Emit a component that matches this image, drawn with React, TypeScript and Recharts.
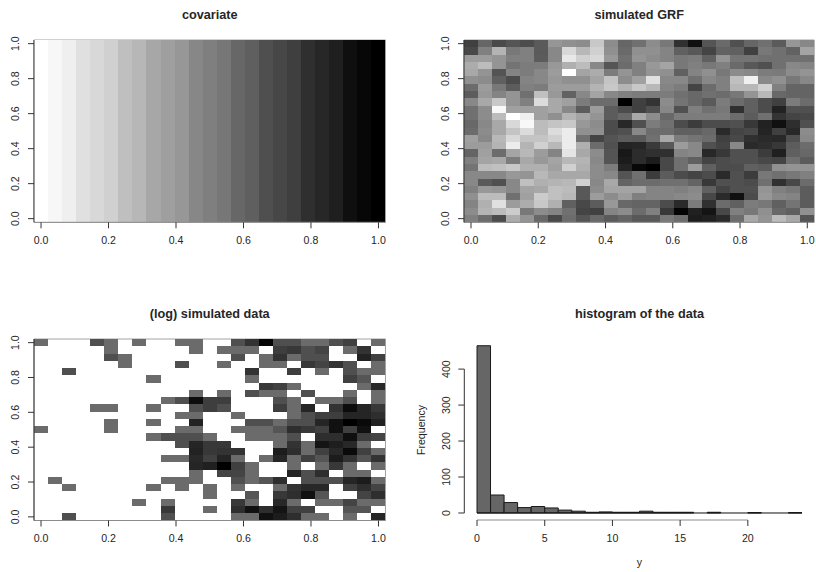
import { Bar, BarChart, Cell, ReferenceArea, ReferenceLine, XAxis, YAxis } from 'recharts';

const FONT = '"Liberation Sans", Arial, sans-serif';
const TEXT_COLOR = '#262626';
const BOX_COLOR = '#8c8c8c';
const AXIS_COLOR = '#333333';
const HIST_FILL = '#666666';
const TICK_SIZE = 10.6;
const TITLE_SIZE = 12.7;

const _ = null;

// cell centres of the 25 x 25 image grid
const xCenters = [
  0, 0.041667, 0.083333, 0.125, 0.166667, 0.208333, 0.25, 0.291667, 0.333333, 0.375, 0.416667, 0.458333, 0.5,
  0.541667, 0.583333, 0.625, 0.666667, 0.708333, 0.75, 0.791667, 0.833333, 0.875, 0.916667, 0.958333, 1,
];
const xTicks = [0, 0.2, 0.4, 0.6, 0.8, 1];
// y is in row units (0..25), row centres of 0, 0.2 .. 1 fall on these
const yTicks = [0.5, 5.3, 10.1, 14.9, 19.7, 24.5];
const yTickLabels = ['0.0', '0.2', '0.4', '0.6', '0.8', '1.0'];

// grey levels (0 = black, 255 = white), left to right
const covariateLevels = [
  0xff, 0xf7, 0xef, 0xe0, 0xd8, 0xd0, 0xbf, 0xb7, 0xa7, 0x9f, 0x97, 0x87, 0x7f, 0x77, 0x67, 0x5f, 0x4f, 0x47, 0x3f,
  0x2f, 0x27, 0x1f, 0x0f, 0x07, 0x00,
];
const covariateRows = new Array(25).fill(covariateLevels);

// grey levels, rows from top to bottom
const grfRows = [
  [0x40, 0x66, 0x4a, 0x55, 0x4c, 0x5a, 0x96, 0x90, 0x8c, 0xc8, 0x8c, 0x66, 0x70, 0x8c, 0x78, 0x30, 0x10, 0x55, 0x6a, 0x50, 0x66, 0x70, 0x5a, 0x96, 0x88],
  [0x48, 0x80, 0xb4, 0x78, 0x80, 0x5a, 0x88, 0xd8, 0xb8, 0xd0, 0x90, 0x6a, 0x90, 0x90, 0x84, 0x60, 0x58, 0x44, 0x62, 0x60, 0x40, 0x78, 0x70, 0x62, 0xa4],
  [0x9c, 0x9c, 0x94, 0x80, 0x80, 0x5c, 0x88, 0xe8, 0xd0, 0xd8, 0x98, 0x70, 0x94, 0x8c, 0x84, 0x78, 0x7c, 0x60, 0x94, 0x74, 0x74, 0x70, 0x70, 0x70, 0x70],
  [0xac, 0xbc, 0x94, 0x74, 0x7c, 0x7c, 0x98, 0xb0, 0xbc, 0x88, 0x55, 0x6c, 0x80, 0x98, 0xa4, 0x78, 0x80, 0x78, 0x80, 0x6a, 0x58, 0x50, 0x70, 0x88, 0x84],
  [0xa8, 0x94, 0x54, 0x84, 0x7c, 0x88, 0x9c, 0xff, 0xa4, 0xac, 0x7c, 0x94, 0x80, 0x94, 0x90, 0x60, 0x84, 0x90, 0x78, 0x8c, 0x88, 0x7c, 0x7a, 0x8c, 0x94],
  [0x90, 0x8c, 0x60, 0x4c, 0x84, 0x88, 0x98, 0x90, 0x90, 0xa4, 0xc4, 0x8c, 0xa0, 0xe0, 0x88, 0x88, 0x70, 0x88, 0x80, 0xc0, 0xf0, 0x88, 0x90, 0x78, 0x88],
  [0x6c, 0x9c, 0x78, 0x5c, 0x80, 0x7c, 0x9c, 0x9c, 0x9c, 0xb4, 0xc8, 0xb4, 0xc8, 0xb8, 0x84, 0x7c, 0x44, 0x6c, 0x80, 0xb8, 0xb8, 0xd0, 0x80, 0x64, 0x64],
  [0x5c, 0x98, 0x84, 0x94, 0x70, 0xc0, 0x98, 0x62, 0x88, 0xa4, 0x88, 0x80, 0x7c, 0x7c, 0x7c, 0x70, 0x68, 0x70, 0x6c, 0x78, 0x94, 0xb8, 0x68, 0x64, 0x64],
  [0x88, 0xa8, 0xc8, 0x94, 0x80, 0xdc, 0xa8, 0xa0, 0x7c, 0x6c, 0x6c, 0x00, 0x40, 0x34, 0x8c, 0x74, 0x68, 0x5a, 0x7c, 0x6c, 0x60, 0x4c, 0x40, 0x7c, 0x6c],
  [0x70, 0x8c, 0xf8, 0xa0, 0xa0, 0xa0, 0xa8, 0x88, 0x5c, 0x9c, 0x5c, 0x4c, 0x40, 0x50, 0x88, 0x50, 0x80, 0x70, 0x78, 0x30, 0x60, 0x4c, 0x22, 0x50, 0x50],
  [0x70, 0x8c, 0xbc, 0xff, 0xf0, 0xa0, 0x90, 0xb4, 0xa4, 0x94, 0x5c, 0x68, 0xa8, 0x8c, 0x68, 0x7c, 0x7c, 0x7c, 0x7c, 0x6c, 0x5c, 0x70, 0x34, 0x44, 0x48],
  [0x68, 0x88, 0xa8, 0xd8, 0xf8, 0xbc, 0xc4, 0xc8, 0x98, 0x8c, 0x4c, 0x28, 0x50, 0x7c, 0x70, 0x4c, 0x3c, 0x4c, 0x4c, 0x50, 0x38, 0x22, 0x10, 0x2e, 0x50],
  [0x6c, 0x8c, 0xa8, 0xc4, 0xdc, 0xbc, 0xdc, 0xec, 0x90, 0x90, 0x4c, 0x50, 0x88, 0x6c, 0x6c, 0x60, 0x60, 0x68, 0x2a, 0x44, 0x48, 0x24, 0x40, 0x28, 0x8c],
  [0xa0, 0x88, 0xb8, 0xd8, 0xc4, 0xc4, 0xd0, 0xec, 0x70, 0x44, 0x54, 0x5c, 0x5a, 0x70, 0xa8, 0x7c, 0x74, 0x6c, 0x40, 0x48, 0x30, 0x2a, 0x28, 0x50, 0x88],
  [0x9c, 0x9c, 0xb4, 0xec, 0xb4, 0xd0, 0xb8, 0xec, 0xb0, 0x6c, 0x50, 0x24, 0x26, 0x3a, 0x58, 0x9c, 0x88, 0x50, 0x44, 0x88, 0x2a, 0x2e, 0x38, 0x5c, 0x6c],
  [0x64, 0xa0, 0x6c, 0xa4, 0xb8, 0x9c, 0x84, 0xe4, 0xa8, 0x8c, 0x54, 0x18, 0x2c, 0x30, 0x30, 0x84, 0x88, 0x28, 0x38, 0x50, 0x50, 0x3c, 0x20, 0x60, 0x68],
  [0x80, 0xa4, 0xa8, 0x7c, 0xa8, 0x98, 0xa4, 0xb8, 0xb4, 0x88, 0x54, 0x1c, 0x2c, 0x1c, 0x48, 0x70, 0x60, 0x44, 0x4c, 0x50, 0x50, 0x48, 0x44, 0x70, 0x5c],
  [0x74, 0xbc, 0xc0, 0xc8, 0xb0, 0xb0, 0xa0, 0xd0, 0xb0, 0x8c, 0x7c, 0x24, 0x08, 0x00, 0x48, 0x70, 0x9c, 0x60, 0x4c, 0x4c, 0x60, 0x5c, 0x90, 0x94, 0x94],
  [0x88, 0x88, 0x88, 0x98, 0x94, 0xb8, 0xa8, 0xa8, 0xa8, 0x8c, 0x88, 0x54, 0x70, 0x3c, 0x5c, 0x4c, 0x44, 0x4c, 0x2a, 0x50, 0x3c, 0x78, 0x70, 0x78, 0x80],
  [0x88, 0x5a, 0x50, 0x88, 0xc0, 0xb0, 0xb4, 0xb8, 0xd0, 0x88, 0xa8, 0x64, 0x6c, 0x6c, 0x70, 0x70, 0x64, 0x38, 0x50, 0x50, 0x4c, 0x70, 0x30, 0x48, 0x6c],
  [0x80, 0x98, 0x94, 0x88, 0xa4, 0xa8, 0xc0, 0xbc, 0x58, 0x8c, 0xa4, 0xa4, 0xa4, 0x84, 0x84, 0x80, 0x88, 0x60, 0x44, 0x50, 0x50, 0x94, 0x80, 0x78, 0x5c],
  [0x90, 0xbc, 0xbc, 0x70, 0xa0, 0xcc, 0xc0, 0xb8, 0x58, 0x9c, 0x8c, 0x9c, 0x80, 0x84, 0x84, 0x88, 0x8c, 0x48, 0x2a, 0x10, 0x4c, 0x98, 0x88, 0x84, 0x5c],
  [0x84, 0xb0, 0xe0, 0x9c, 0xac, 0xc8, 0xb0, 0x60, 0x48, 0x5c, 0x98, 0x68, 0x64, 0x64, 0x4c, 0x2a, 0x7c, 0x30, 0x6c, 0x60, 0x7c, 0x78, 0x60, 0x74, 0x5c],
  [0x8c, 0xb4, 0xbc, 0xcc, 0x78, 0x8c, 0x84, 0x70, 0x44, 0x40, 0x84, 0x8c, 0x6c, 0x80, 0x38, 0x04, 0x20, 0x14, 0x48, 0x80, 0x78, 0x90, 0x68, 0x60, 0x90],
  [0x80, 0x6c, 0x4c, 0xac, 0x94, 0x68, 0x48, 0x6c, 0x54, 0x68, 0x5a, 0x64, 0x58, 0x58, 0x78, 0x6c, 0x1c, 0x20, 0x2a, 0x6c, 0xa8, 0x94, 0xbc, 0xa8, 0x54],
];

// grey levels, rows from top to bottom, null where the log is undefined (white)
const logDataRows = [
  [0x6b, _, _, _, 0x4f, 0x6b, _, 0x6b, _, _, 0x6b, 0x6b, _, _, 0x4f, 0x33, 0x05, 0x4f, 0x4f, 0x6b, 0x6b, 0x4f, 0x40, _, 0x6b],
  [_, _, _, _, _, 0x6b, _, _, _, _, _, 0x6b, _, 0x6b, 0x6b, 0x6b, _, 0x3e, 0x38, 0x4f, 0x44, _, 0x6b, 0x33, _],
  [_, _, _, _, _, 0x4f, 0x6b, _, _, _, _, _, _, _, 0x4f, _, 0x6b, 0x33, 0x6b, 0x4f, 0x4f, _, _, 0x22, 0x40],
  [_, _, _, _, _, _, 0x6b, _, _, _, 0x4f, _, _, 0x6b, _, _, 0x6b, 0x6b, _, 0x38, 0x44, 0x33, 0x4f, _, 0x6b],
  [_, _, 0x4f, _, _, _, _, _, _, _, _, _, _, _, _, 0x33, _, _, 0x3e, _, 0x6b, _, 0x4f, 0x6b, 0x6b],
  [_, _, _, _, _, _, _, _, 0x6b, _, _, _, _, _, _, 0x6b, _, _, _, _, _, _, 0x40, 0x55, _],
  [_, _, _, _, _, _, _, _, _, _, _, _, _, _, _, _, 0x38, 0x40, 0x6b, _, _, _, _, 0x6b, 0x28],
  [_, _, _, _, _, _, _, _, _, _, _, 0x6b, _, 0x6b, _, 0x4f, 0x6b, 0x6b, _, 0x4f, _, _, 0x6b, _, 0x6b],
  [_, _, _, _, _, _, _, _, _, 0x6b, 0x4f, 0x0c, 0x3e, 0x3e, _, _, _, 0x4f, 0x6b, _, 0x6b, 0x6b, 0x4f, _, 0x6b],
  [_, _, _, _, 0x6b, 0x6b, _, _, 0x6b, _, _, 0x4f, 0x3e, 0x4f, _, _, _, 0x3e, 0x6b, 0x25, _, 0x33, 0x0c, 0x25, 0x38],
  [_, _, _, _, _, _, _, _, _, _, 0x6b, 0x6b, _, _, 0x6b, _, _, _, 0x6b, 0x4f, 0x3e, 0x3e, 0x25, 0x25, 0x2e],
  [_, _, _, _, _, 0x6b, _, _, 0x6b, _, _, 0x22, _, _, _, 0x4f, 0x4f, 0x6b, 0x4f, 0x4f, 0x25, 0x11, 0x00, 0x0a, 0x22],
  [0x6b, _, _, _, _, 0x6b, _, _, _, _, 0x6b, 0x6b, _, _, 0x6b, 0x6b, 0x6b, 0x55, 0x2e, 0x38, 0x40, 0x11, 0x40, 0x11, _],
  [_, _, _, _, _, _, _, _, 0x6b, 0x4f, 0x4f, 0x4f, 0x6b, _, _, 0x6b, 0x6b, 0x6b, 0x4f, _, 0x2e, 0x2e, 0x0f, 0x3e, 0x44],
  [_, _, _, _, _, _, _, _, _, _, 0x4f, 0x25, 0x38, 0x38, _, _, _, 0x6b, 0x33, 0x6b, 0x14, 0x1e, 0x28, 0x6b, _],
  [_, _, _, _, _, _, _, _, _, _, _, 0x22, 0x38, 0x33, 0x33, _, _, 0x1c, 0x2e, 0x6b, 0x40, 0x28, 0x0a, 0x40, 0x6b],
  [_, _, _, _, _, _, _, _, _, 0x6b, 0x6b, 0x28, 0x40, 0x25, 0x6b, _, 0x6b, 0x25, 0x6b, 0x40, 0x55, 0x1c, 0x33, 0x55, 0x33],
  [_, _, _, _, _, _, _, _, _, _, _, 0x25, 0x20, 0x00, 0x40, 0x6b, _, _, 0x6b, _, 0x6b, 0x38, 0x6b, _, 0x6b],
  [_, _, _, _, _, _, _, _, _, _, _, 0x6b, _, 0x44, 0x44, 0x6b, _, _, 0x25, 0x4f, 0x2e, _, 0x6b, 0x6b, _],
  [_, 0x6b, _, _, _, _, _, _, _, 0x6b, 0x6b, 0x6b, _, _, 0x4f, 0x6b, 0x55, 0x2e, _, 0x4f, 0x4f, 0x4f, 0x25, 0x1c, 0x6b],
  [_, _, 0x6b, _, _, _, _, _, 0x6b, _, 0x6b, _, 0x6b, _, 0x6b, _, _, 0x6b, 0x33, 0x28, 0x28, _, 0x40, 0x2e, 0x44],
  [_, _, _, _, _, _, _, _, _, _, _, _, 0x6b, _, _, 0x55, _, 0x38, 0x2e, 0x11, 0x55, _, _, 0x44, 0x2e],
  [_, _, _, _, _, _, _, 0x6b, _, 0x6b, _, _, _, _, 0x38, 0x6b, _, 0x28, 0x6b, _, 0x6b, 0x6b, 0x44, 0x6b, 0x6b],
  [_, _, _, _, _, _, _, _, _, 0x38, _, _, 0x6b, _, 0x2e, 0x11, 0x2e, 0x14, 0x40, 0x40, _, _, 0x55, 0x55, _],
  [_, _, 0x4f, _, _, _, _, _, _, 0x4f, _, _, _, _, 0x6b, 0x6b, 0x11, 0x1c, 0x2e, 0x6b, 0x6b, _, 0x6b, _, 0x25],
];

// histogram of y, unit-width bins starting at 0
const binMids = [
  0.5, 1.5, 2.5, 3.5, 4.5, 5.5, 6.5, 7.5, 8.5, 9.5, 10.5, 11.5, 12.5, 13.5, 14.5, 15.5, 16.5, 17.5, 18.5, 19.5, 20.5,
  21.5, 22.5, 23.5,
];
const binCounts = [465, 50, 29, 15, 18, 14, 8, 5, 2, 3, 2, 2, 5, 2, 2, 2, 0, 2, 0, 0, 1, 0, 0, 1];
const histXTicks = [0, 5, 10, 15, 20];
const histYTicks = [0, 100, 200, 300, 400];

const toGrey = (level: number) => `rgb(${level},${level},${level})`;

function RotatedTick({ x, y, payload, format }: any) {
  const tx = x - 8.7;
  return (
    <text
      x={tx}
      y={y}
      transform={`rotate(-90 ${tx} ${y})`}
      textAnchor="middle"
      fontSize={TICK_SIZE}
      fontFamily={FONT}
      fill={TEXT_COLOR}
    >
      {format ? format(payload.value) : payload.value}
    </text>
  );
}

interface ImagePanelProps {
  left: number;
  top: number;
  plotWidth: number;
  plotHeight: number;
  title: string;
  rows: (number | null)[][];
}

function ImagePanel({ left, top, plotWidth, plotHeight, title, rows }: ImagePanelProps) {
  // bottom row goes first in the stack
  const bottomUp = [...rows].reverse();
  const table = xCenters.map((x) => {
    const entry: Record<string, number> = { x };
    bottomUp.forEach((_row, r) => {
      entry[`r${r}`] = 1;
    });
    return entry;
  });

  return (
    <div style={{ position: 'absolute', left: left - 34, top: top - 34 }}>
      {/* barSize has to stay under the band size, recharts shrinks it by 10% otherwise */}
      <BarChart
        width={plotWidth + 44}
        height={plotHeight + 64}
        data={table}
        barGap={0}
        barCategoryGap={0}
        barSize={(plotWidth / 25) * 0.9995}
        margin={{ top: 34, right: 10, bottom: 0, left: 4 }}
      >
        <XAxis
          dataKey="x"
          type="number"
          domain={[-1 / 48, 49 / 48]}
          allowDataOverflow
          ticks={xTicks}
          interval={0}
          height={30}
          tickSize={6}
          tickMargin={8}
          tick={{ fontSize: TICK_SIZE, fontFamily: FONT, fill: TEXT_COLOR }}
          tickLine={{ stroke: AXIS_COLOR }}
          axisLine={{ stroke: BOX_COLOR }}
          tickFormatter={(value: number) => value.toFixed(1)}
        />
        <YAxis
          type="number"
          domain={[0, 25]}
          allowDataOverflow
          ticks={yTicks}
          width={30}
          tickSize={6}
          tickMargin={0}
          interval={0}
          tick={<RotatedTick format={(value: number) => yTickLabels[yTicks.indexOf(value)]} />}
          tickLine={{ stroke: AXIS_COLOR }}
          axisLine={{ stroke: AXIS_COLOR }}
        />
        {bottomUp.map((row, r) => (
          <Bar key={r} dataKey={`r${r}`} stackId="image" isAnimationActive={false} shapeRendering="crispEdges">
            {row.map((level, col) => (
              <Cell key={col} fill={level === null ? 'none' : toGrey(level)} />
            ))}
          </Bar>
        ))}
        <ReferenceArea x1={-1 / 48} x2={49 / 48} y1={0} y2={25} fill="none" stroke={BOX_COLOR} strokeWidth={0.8} />
        <text
          x={34 + plotWidth / 2}
          y={13}
          textAnchor="middle"
          fontSize={TITLE_SIZE}
          fontWeight="bold"
          fontFamily={FONT}
          fill={TEXT_COLOR}
        >
          {title}
        </text>
      </BarChart>
    </div>
  );
}

function HistogramPanel() {
  const table = binMids.map((mid, i) => ({ mid, count: binCounts[i] }));
  return (
    <div style={{ position: 'absolute', left: 408, top: 286 }}>
      <BarChart
        width={408}
        height={286}
        data={table}
        barGap={0}
        barCategoryGap={0}
        barSize={13.5}
        margin={{ top: 59, right: 14, bottom: 22, left: 26.3 }}
      >
        <XAxis
          dataKey="mid"
          type="number"
          domain={[-0.94, 24]}
          allowDataOverflow
          ticks={histXTicks}
          interval={0}
          height={30}
          tickSize={6}
          tickMargin={8}
          tick={{ fontSize: TICK_SIZE, fontFamily: FONT, fill: TEXT_COLOR }}
          tickLine={{ stroke: AXIS_COLOR }}
          axisLine={false}
        />
        <YAxis
          type="number"
          domain={[-19.5, 467]}
          allowDataOverflow
          ticks={histYTicks}
          interval={0}
          width={30}
          tickSize={6}
          tickMargin={0}
          tick={<RotatedTick />}
          tickLine={{ stroke: AXIS_COLOR }}
          axisLine={false}
        />
        <ReferenceLine
          segment={[
            { x: 0, y: 0 },
            { x: 24, y: 0 },
          ]}
          stroke="#111111"
        />
        <Bar dataKey="count" fill={HIST_FILL} stroke="#1a1a1a" strokeWidth={1} isAnimationActive={false} />
        <ReferenceLine
          segment={[
            { x: 0, y: -19.5 },
            { x: 20, y: -19.5 },
          ]}
          stroke={BOX_COLOR}
        />
        <ReferenceLine
          segment={[
            { x: -0.94, y: 0 },
            { x: -0.94, y: 400 },
          ]}
          stroke={AXIS_COLOR}
        />
        <text x={231.5} y={31.5} textAnchor="middle" fontSize={TITLE_SIZE} fontWeight="bold" fontFamily={FONT} fill={TEXT_COLOR}>
          histogram of the data
        </text>
        <text
          x={16.5}
          y={144}
          transform="rotate(-90 16.5 144)"
          textAnchor="middle"
          fontSize={TICK_SIZE}
          fontFamily={FONT}
          fill={TEXT_COLOR}
        >
          Frequency
        </text>
        <text x={231.5} y={280} textAnchor="middle" fontSize={TICK_SIZE} fontFamily={FONT} fill={TEXT_COLOR}>
          y
        </text>
      </BarChart>
    </div>
  );
}

export default function App() {
  return (
    <div style={{ position: 'absolute', left: 0, top: 0, width: 816, height: 572, background: '#fff', overflow: 'hidden' }}>
      <ImagePanel left={34} top={40} plotWidth={351.5} plotHeight={182.3} title="covariate" rows={covariateRows} />
      <ImagePanel left={464} top={40} plotWidth={350.3} plotHeight={182.3} title="simulated GRF" rows={grfRows} />
      <ImagePanel left={34} top={338.5} plotWidth={351.5} plotHeight={181.5} title="(log) simulated data" rows={logDataRows} />
      <HistogramPanel />
    </div>
  );
}
